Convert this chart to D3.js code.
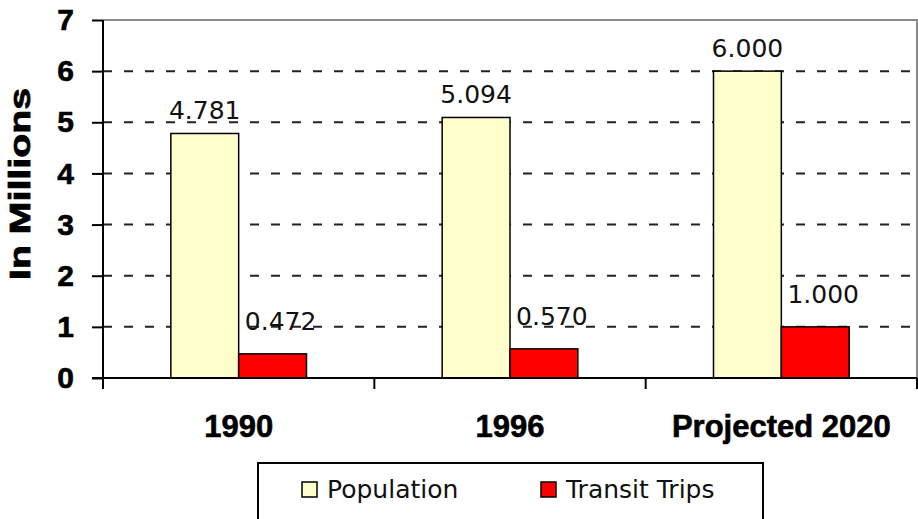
<!DOCTYPE html>
<html lang="en">
<head>
  <meta charset="UTF-8">
  <title>Population and Transit Trips</title>
  <script src="https://d3js.org/d3.v7.min.js"></script>
  <style>
    body { margin: 0; background: #fff; }
  </style>
</head>
<body>
  <div id="chart"></div>

  <script>
    // Data
    const categories = ["1990", "1996", "Projected 2020"];
    const seriesNames = ["Population", "Transit Trips"];
    const population = [4.781, 5.094, 6.000];
    const transitTrips = [0.472, 0.570, 1.000];
    const yTicks = [0, 1, 2, 3, 4, 5, 6, 7];

    const colors = { "Population": "#ffffcc", "Transit Trips": "#ff0000" };

    const width = 918, height = 519;
    const margin = { top: 20, right: 1, bottom: 141, left: 103 };

    const svg = d3.select("#chart").append("svg")
      .attr("width", width)
      .attr("height", height);

    const x = d3.scaleBand()
      .domain(categories)
      .range([margin.left, width - margin.right]);

    const xSub = d3.scaleBand()
      .domain(seriesNames)
      .range([0, x.bandwidth()])
      .paddingOuter(1);

    const y = d3.scaleLinear()
      .domain([0, 7])
      .range([height - margin.bottom, margin.top]);

    // plot frame (top + right in gray)
    svg.append("path")
      .attr("d", `M${x.range()[0]},${y(7)}H${x.range()[1]}V${y(0)}`)
      .attr("fill", "none")
      .attr("stroke", "#8a8a8a")
      .attr("stroke-width", 2);

    // dashed gridlines
    svg.append("g")
      .selectAll("line")
      .data(yTicks.filter(d => d > 0 && d < 7))
      .join("line")
      .attr("x1", x.range()[0])
      .attr("x2", x.range()[1])
      .attr("y1", d => y(d))
      .attr("y2", d => y(d))
      .attr("stroke", "#222")
      .attr("stroke-width", 2)
      .attr("stroke-dasharray", "9,12");

    // bars
    const rows = categories.map((c, i) => ({
      cat: c,
      values: [
        { key: "Population", value: population[i] },
        { key: "Transit Trips", value: transitTrips[i] }
      ]
    }));

    const groups = svg.append("g")
      .selectAll("g")
      .data(rows)
      .join("g")
      .attr("transform", d => `translate(${x(d.cat)},0)`);

    groups.selectAll("rect")
      .data(d => d.values)
      .join("rect")
      .attr("x", d => xSub(d.key))
      .attr("y", d => y(d.value))
      .attr("width", xSub.bandwidth())
      .attr("height", d => y(0) - y(d.value))
      .attr("fill", d => colors[d.key])
      .attr("stroke", "#000")
      .attr("stroke-width", 1.5);

    groups.selectAll("text")
      .data(d => d.values)
      .join("text")
      .attr("x", d => xSub(d.key) + xSub.bandwidth() / 2 + (d.key === "Transit Trips" ? 8 : 0))
      .attr("y", d => y(d.value) - (d.key === "Transit Trips" ? 24 : 14))
      .attr("text-anchor", "middle")
      .attr("font-family", "'DejaVu Sans', sans-serif")
      .attr("font-size", 25)
      .attr("fill", "#111")
      .text(d => d3.format(".3f")(d.value));

    // y axis
    const yAxis = svg.append("g")
      .attr("transform", `translate(${margin.left},0)`)
      .call(d3.axisLeft(y).tickValues(yTicks).tickSize(11).tickPadding(18).tickFormat(d3.format("d")));
    yAxis.select(".domain").remove();
    yAxis.selectAll(".tick line").attr("stroke", "#000").attr("stroke-width", 2);
    yAxis.selectAll(".tick text")
      .attr("font-family", "'Liberation Sans', Arial, sans-serif")
      .attr("font-weight", "bold")
      .attr("font-size", 30)
      .attr("stroke", "#000")
      .attr("stroke-width", 0.6)
      .attr("fill", "#000");
    svg.append("line")
      .attr("x1", margin.left).attr("x2", margin.left)
      .attr("y1", y(7)).attr("y2", y(0) + 11)
      .attr("stroke", "#000").attr("stroke-width", 2);

    // x axis
    svg.append("line")
      .attr("x1", margin.left - 11).attr("x2", x.range()[1])
      .attr("y1", y(0)).attr("y2", y(0))
      .attr("stroke", "#000").attr("stroke-width", 2);
    svg.append("g")
      .selectAll("line")
      .data(categories.slice(1).concat(["end"]))
      .join("line")
      .attr("x1", d => d === "end" ? x.range()[1] : x(d))
      .attr("x2", d => d === "end" ? x.range()[1] : x(d))
      .attr("y1", y(0))
      .attr("y2", y(0) + 11)
      .attr("stroke", "#000").attr("stroke-width", 2);

    svg.append("g")
      .selectAll("text")
      .data(categories)
      .join("text")
      .attr("x", d => x(d) + x.bandwidth() / 2)
      .attr("y", y(0) + 59)
      .attr("text-anchor", "middle")
      .attr("font-family", "'Liberation Sans', Arial, sans-serif")
      .attr("font-weight", "bold")
      .attr("font-size", 31)
      .attr("stroke", "#000")
      .attr("stroke-width", 0.6)
      .attr("fill", "#000")
      .text(d => d);

    // y axis title
    svg.append("text")
      .attr("transform", `translate(30,${(y(0) + y(7)) / 2 - 15}) rotate(-90)`)
      .attr("text-anchor", "middle")
      .attr("font-family", "'Liberation Sans', Arial, sans-serif")
      .attr("font-weight", "bold")
      .attr("font-size", 30)
      .attr("textLength", 192)
      .attr("lengthAdjust", "spacingAndGlyphs")
      .attr("stroke", "#000")
      .attr("stroke-width", 0.8)
      .attr("fill", "#000")
      .text("In Millions");

    // legend
    const legend = svg.append("g");
    legend.append("rect")
      .attr("x", 258).attr("y", 463)
      .attr("width", 505).attr("height", 70)
      .attr("fill", "#fff")
      .attr("stroke", "#000")
      .attr("stroke-width", 2);

    const legendX = d3.scaleOrdinal().domain(seriesNames).range([302, 541]);
    const items = legend.selectAll("g.item")
      .data(seriesNames)
      .join("g")
      .attr("class", "item")
      .attr("transform", d => `translate(${legendX(d)},482)`);
    items.append("rect")
      .attr("width", 15).attr("height", 15)
      .attr("fill", d => colors[d])
      .attr("stroke", "#000")
      .attr("stroke-width", 1.5);
    items.append("text")
      .attr("x", 25).attr("y", 16)
      .attr("font-family", "'DejaVu Sans', sans-serif")
      .attr("font-size", 25)
      .attr("fill", "#111")
      .text(d => d);
  </script>
</body>
</html>
